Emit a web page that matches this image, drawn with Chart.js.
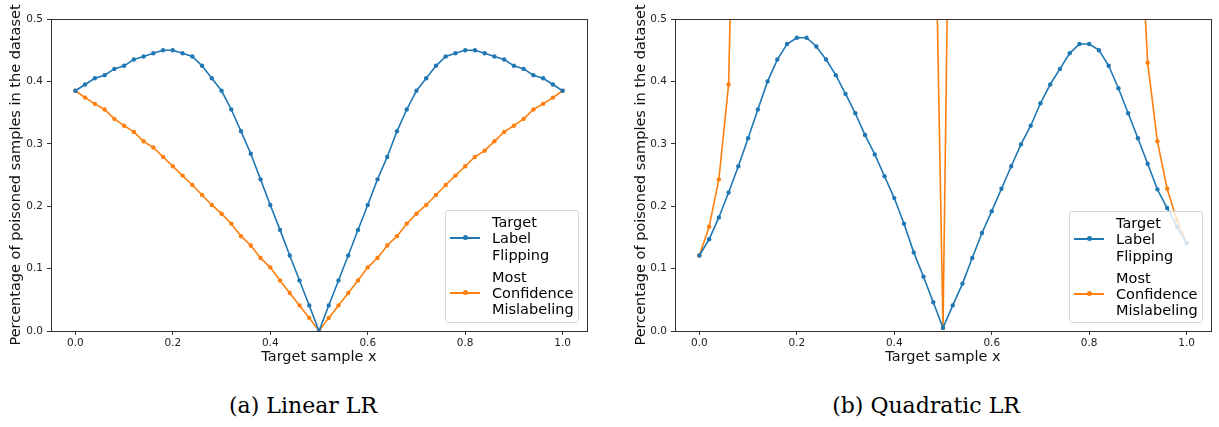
<!DOCTYPE html>
<html>
<head>
<meta charset="utf-8">
<script src="https://cdn.jsdelivr.net/npm/chart.js@4"></script>
<style>
  body { margin: 0; background: #fff; width: 1219px; height: 427px; overflow: hidden; position: relative; font-family: "DejaVu Sans", sans-serif; }
  .box { position: absolute; top: 0; height: 370px; }
  .legend { position: absolute; background: rgba(255,255,255,0.8); border: 1px solid #d6d6d6; border-radius: 3px; font-size: 14.5px; line-height: 16.3px; color: #000; padding: 1px 4px 3px 4px; box-sizing: border-box; text-align: left; }
  .item { display: flex; align-items: center; margin: 2px 0 6px 0; }
  .sample { width: 30px; height: 2px; position: relative; margin-right: 12px; flex: none; }
  .sample i { position: absolute; left: 13px; top: -2px; width: 5px; height: 5px; border-radius: 50%; }
  .cap { position: absolute; top: 393px; font-family: "DejaVu Serif", "Liberation Serif", serif; font-size: 22px; color: #000; transform: translateX(-50%); white-space: nowrap; }
</style>
</head>
<body>
<div class="box" style="left:0;width:600px"><canvas id="linChart"></canvas></div>
<div class="box" style="left:617px;width:602px"><canvas id="quadChart"></canvas></div>

<div class="legend" style="left:445px;top:210px;width:134px;height:113px">
  <div class="item"><div class="sample" style="background:#1f77b4"><i style="background:#1f77b4"></i></div><div>Target<br>Label<br>Flipping</div></div>
  <div class="item"><div class="sample" style="background:#ff7f0e"><i style="background:#ff7f0e"></i></div><div>Most<br>Confidence<br>Mislabeling</div></div>
</div>
<div class="legend" style="left:1069px;top:211px;width:134px;height:112px">
  <div class="item"><div class="sample" style="background:#1f77b4"><i style="background:#1f77b4"></i></div><div>Target<br>Label<br>Flipping</div></div>
  <div class="item"><div class="sample" style="background:#ff7f0e"><i style="background:#ff7f0e"></i></div><div>Most<br>Confidence<br>Mislabeling</div></div>
</div>

<div class="cap" style="left:303px">(a) Linear LR</div>
<div class="cap" style="left:926px">(b) Quadratic LR</div>

<script>
const xValues = [0.00,0.02,0.04,0.06,0.08,0.10,0.12,0.14,0.16,0.18,0.20,0.22,0.24,0.26,0.28,0.30,0.32,0.34,0.36,0.38,0.40,0.42,0.44,0.46,0.48,0.50,
                 0.52,0.54,0.56,0.58,0.60,0.62,0.64,0.66,0.68,0.70,0.72,0.74,0.76,0.78,0.80,0.82,0.84,0.86,0.88,0.90,0.92,0.94,0.96,0.98,1.00];
const xTicks = [0.0, 0.2, 0.4, 0.6, 0.8, 1.0];
const yTicks = [0.0, 0.1, 0.2, 0.3, 0.4, 0.5];

const linFlip = [0.385,0.395,0.405,0.41,0.42,0.425,0.435,0.44,0.445,0.45,0.45,0.445,0.44,0.425,0.405,0.385,0.355,0.32,0.284,0.243,0.202,0.162,0.121,0.081,0.041,0.0,
                 0.041,0.081,0.121,0.162,0.202,0.243,0.279,0.32,0.355,0.385,0.405,0.425,0.44,0.445,0.45,0.45,0.445,0.44,0.435,0.425,0.42,0.41,0.405,0.395,0.385];
const linConf = [0.385,0.374,0.364,0.355,0.34,0.329,0.319,0.304,0.294,0.279,0.264,0.249,0.234,0.218,0.202,0.188,0.172,0.152,0.137,0.117,0.102,0.081,0.061,0.041,0.021,0.0,
                 0.021,0.041,0.061,0.081,0.102,0.117,0.137,0.152,0.172,0.188,0.202,0.218,0.234,0.249,0.264,0.279,0.289,0.304,0.319,0.329,0.34,0.355,0.364,0.374,0.385];

const quadFlip = [0.121,0.147,0.182,0.222,0.264,0.309,0.355,0.4,0.435,0.46,0.47,0.47,0.456,0.435,0.41,0.38,0.349,0.314,0.283,0.248,0.213,0.172,0.126,0.087,0.046,0.005,
                  0.041,0.076,0.117,0.157,0.192,0.228,0.264,0.299,0.329,0.365,0.395,0.42,0.445,0.46,0.46,0.45,0.425,0.389,0.349,0.309,0.268,0.227,0.197,0.167,0.141];
// values between the spikes run far above the 0.5 axis limit; only their edges are visible
const quadConf = [0.121,0.167,0.243,0.395,1.1,1.6,2.0,2.3,2.5,2.6,2.6,2.5,2.4,2.2,2.0,1.8,1.6,1.4,1.25,1.1,1.0,0.95,0.9,0.88,0.86,0.005,
                  1.18,1.3,1.45,1.6,1.75,1.9,2.0,2.1,2.1,2.0,1.9,1.7,1.5,1.3,1.15,1.0,0.9,0.82,0.77,0.735,0.43,0.304,0.228,0.178,0.141];

const frame = {
  id: 'frame',
  afterDraw(chart) {
    const a = chart.chartArea, c = chart.ctx;
    c.save();
    c.strokeStyle = '#333';
    c.lineWidth = 1;
    c.strokeRect(Math.round(a.left) + 0.5, Math.round(a.top) + 0.5, Math.round(a.right - a.left), Math.round(a.bottom - a.top));
    c.restore();
  }
};

function makeChart(id, flip, conf, yWidth, titlePad, rightPad) {
  const pts = arr => xValues.map((x, i) => ({ x: x, y: arr[i] }));
  new Chart(id, {
    type: 'line',
    data: {
      datasets: [
        { label: 'Target Label Flipping', data: pts(flip), borderColor: '#1f77b4', backgroundColor: '#1f77b4', borderWidth: 1.6, pointRadius: 2.2, pointBorderWidth: 0, tension: 0 },
        { label: 'Most Confidence Mislabeling', data: pts(conf), borderColor: '#ff7f0e', backgroundColor: '#ff7f0e', borderWidth: 1.6, pointRadius: 2.2, pointBorderWidth: 0, tension: 0 }
      ]
    },
    options: {
      responsive: true,
      maintainAspectRatio: false,
      animation: false,
      layout: { padding: { top: 19, right: rightPad, left: 0, bottom: 0 } },
      plugins: { legend: { display: false }, tooltip: { enabled: false } },
      scales: {
        x: {
          type: 'linear', min: -0.05, max: 1.05,
          afterBuildTicks: s => { s.ticks = xTicks.map(v => ({ value: v })); },
          afterFit: s => { s.height = 39; },
          grid: { drawOnChartArea: false, drawTicks: true, tickLength: 4, color: '#333' },
          border: { display: false },
          ticks: { color: '#222', font: { family: 'DejaVu Sans', size: 10.5 }, padding: 2, maxRotation: 0, callback: v => v.toFixed(1) },
          title: { display: true, text: 'Target sample x', color: '#111', font: { family: 'DejaVu Sans', size: 14.5 }, padding: { top: 0, bottom: 4 } }
        },
        y: {
          min: 0, max: 0.5,
          afterBuildTicks: s => { s.ticks = yTicks.map(v => ({ value: v })); },
          afterFit: s => { s.width = yWidth; },
          grid: { drawOnChartArea: false, drawTicks: true, tickLength: 4, color: '#333' },
          border: { display: false },
          ticks: { color: '#222', font: { family: 'DejaVu Sans', size: 10.5 }, padding: 4, callback: v => v.toFixed(1) },
          title: { display: true, text: 'Percentage of poisoned samples in the dataset', color: '#111', font: { family: 'DejaVu Sans', size: 14.5 }, padding: { top: titlePad, bottom: 0 } }
        }
      }
    },
    plugins: [frame]
  });
}

makeChart('linChart', linFlip, linConf, 51, 8, 13);
makeChart('quadChart', quadFlip, quadConf, 58, 16, 8);
</script>
</body>
</html>
